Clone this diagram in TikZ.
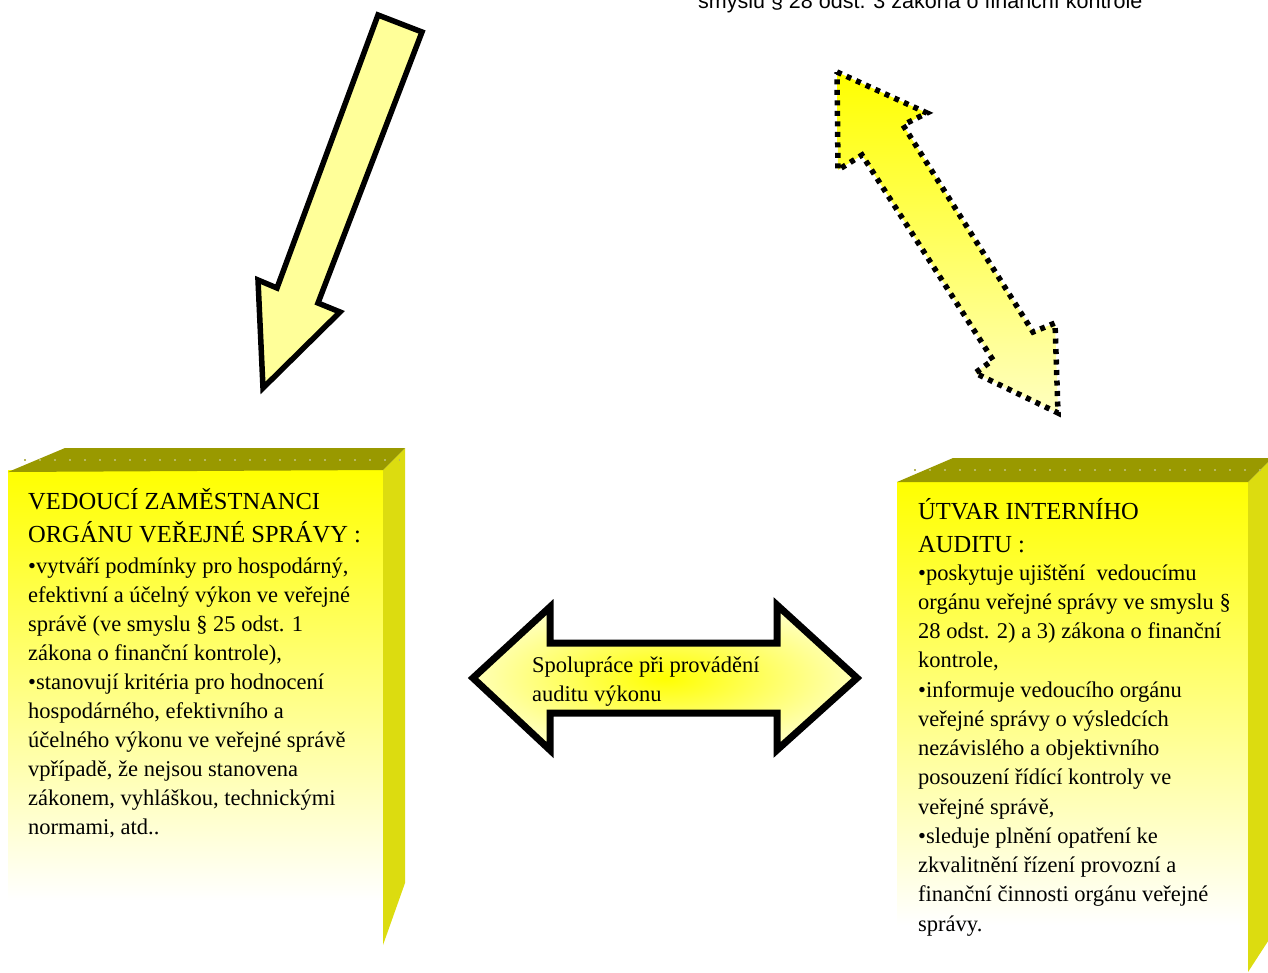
\documentclass[tikz,border=0pt]{standalone}
\usepackage{fontspec}
\setmainfont{Liberation Serif}
\newfontfamily\arialf{Liberation Sans}
\definecolor{paley}{HTML}{FFFF99}
\definecolor{boxtop}{HTML}{999900}
\definecolor{boxside}{HTML}{DCDC10}
\definecolor{dotc}{HTML}{B8B860}
\tikzset{
  bodytxt/.style={anchor=base west, inner sep=0pt, font=\fontsize{22.5}{29}\selectfont},
  titletxt/.style={anchor=base west, inner sep=0pt, font=\fontsize{24.5}{33}\selectfont},
  solidarrow/.style={draw=black, line width=5.5pt, line join=miter, fill=paley},
  dotarrow/.style={draw=black, line width=5.5pt, dash pattern=on 5pt off 5.5pt, top color=yellow, bottom color=yellow!25!white},
  midarrow/.style={draw=black, line width=7pt, line join=miter, inner color=yellow, outer color=paley!70!white},
  topdots/.style={dotc, line width=1.5pt, dash pattern=on 1.5pt off 13.5pt}
}
\begin{document}
\begin{tikzpicture}[x=1pt,y=-1pt]
\useasboundingbox (0,0) rectangle (1268,972);
\clip (0,0) rectangle (1268,972);
\fill[white] (0,0) rectangle (1268,972);

% top text, cut off by the upper edge as in the reference
\node[anchor=base west, inner sep=0pt, font=\arialf\fontsize{21.5}{25}\selectfont] (toptext) at (698,8) {smyslu § 28 odst. 3 zákona o finanční kontrole};

% top-left solid arrow
\draw[solidarrow] (378,15) -- (422,32) -- (318,303) -- (340,312) -- (263,388) -- (258,280) -- (277,288) -- cycle;

% top-right dotted double arrow
\shadedraw[dotarrow] (837,72) -- (927,113) -- (903,125) -- (1033,332) -- (1055,323) -- (1058,413) -- (975,373) -- (993,360) -- (862,155) -- (838,170) -- cycle;

% left box
\shade[top color=yellow, bottom color=white] (8,470) rectangle (383,900);
\fill[boxside] (383,470) -- (405,448) -- (405,883) -- (383,945) -- cycle;
\fill[boxtop] (8,472) -- (65,448) -- (405,448) -- (383,470) -- cycle;
\draw[topdots] (24,460) -- (400,460);

% right box
\shade[top color=yellow, bottom color=white] (897,482) rectangle (1248,925);
\fill[boxside] (1248,482) -- (1272,458) -- (1272,935) -- (1248,972) -- cycle;
\fill[boxtop] (897,482) -- (953,458) -- (1272,458) -- (1248,482) -- cycle;
\draw[topdots] (914,470) -- (1265,470);

% centre double arrow
\shadedraw[midarrow] (473,678) -- (550,607) -- (550,643) -- (777,643) -- (777,605) -- (857,678) -- (777,750) -- (777,713) -- (550,713) -- (550,750) -- cycle;
\node[bodytxt] (mid1) at (532,672) {Spolupráce při provádění};
\node[bodytxt] (mid2) at (532,701) {auditu výkonu};

% left box texts
\node[titletxt] (lt1) at (28,509) {VEDOUCÍ ZAMĚSTNANCI};
\node[titletxt] (lt2) at (28,542) {ORGÁNU VEŘEJNÉ SPRÁVY :};
\foreach \t [count=\i from 0] in {%
  {•vytváří podmínky pro hospodárný,},
  {efektivní a účelný výkon ve veřejné},
  {správě (ve smyslu § 25 odst. 1},
  {zákona o finanční kontrole),},
  {•stanovují kritéria pro hodnocení},
  {hospodárného, efektivního a},
  {účelného výkonu ve veřejné správě},
  {vpřípadě, že nejsou stanovena},
  {zákonem, vyhláškou, technickými},
  {normami, atd..}}
  \node[bodytxt] (lb\i) at (28,{573+29*\i}) {\t};

% right box texts
\node[titletxt] (rt1) at (918,519) {ÚTVAR INTERNÍHO};
\node[titletxt] (rt2) at (918,552) {AUDITU :};
\foreach \t [count=\i from 0] in {%
  {•poskytuje ujištění \ vedoucímu},
  {orgánu veřejné správy ve smyslu §},
  {28 odst. 2) a 3) zákona o finanční},
  {kontrole,},
  {•informuje vedoucího orgánu},
  {veřejné správy o výsledcích},
  {nezávislého a objektivního},
  {posouzení řídící kontroly ve},
  {veřejné správě,},
  {•sleduje plnění opatření ke},
  {zkvalitnění řízení provozní a},
  {finanční činnosti orgánu veřejné},
  {správy.}}
  \node[bodytxt] (rb\i) at (918,{580+29.25*\i}) {\t};
\end{tikzpicture}
\end{document}
